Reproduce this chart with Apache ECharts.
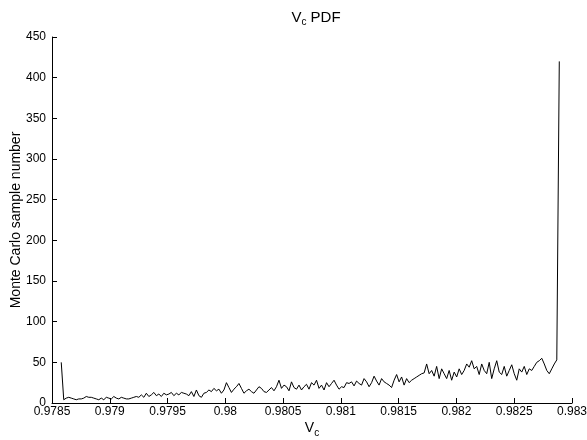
<!DOCTYPE html>
<html>
<head>
<meta charset="utf-8">
<script src="https://cdn.jsdelivr.net/npm/echarts@6/dist/echarts.min.js"></script>
<style>
	html, body { margin: 0; padding: 0; background: #fff; }
	#chart { width: 587px; height: 440px; }
</style>
</head>
<body>
<div id="chart"></div>
<script>
// histogram bins: first and last bin centre, one count per bin
const binFirst = 0.97858
const binLast = 0.98289
const counts = [
	50, 4, 6, 7, 6, 5, 4, 5, 5, 6, 8, 7, 7, 6, 5, 4, 6, 4, 7, 6,
	5, 8, 6, 5, 7, 6, 5, 5, 6, 7, 8, 7, 10, 7, 12, 8, 10, 13, 9, 11,
	8, 12, 10, 11, 13, 9, 12, 10, 13, 12, 11, 9, 14, 8, 16, 9, 7, 12, 13, 16,
	14, 18, 15, 17, 12, 16, 25, 19, 13, 17, 20, 24, 18, 12, 15, 17, 14, 12, 16, 20,
	18, 14, 13, 16, 19, 15, 20, 28, 18, 22, 20, 15, 26, 19, 17, 22, 16, 20, 23, 17,
	25, 22, 28, 18, 22, 16, 25, 20, 24, 28, 22, 17, 20, 19, 25, 24, 26, 21, 27, 24,
	22, 30, 26, 20, 25, 33, 27, 22, 30, 26, 24, 22, 19, 28, 35, 26, 32, 22, 30, 25,
	28, 30, 32, 34, 36, 37, 48, 36, 40, 33, 45, 30, 42, 36, 30, 40, 28, 38, 32, 42,
	35, 40, 48, 44, 52, 42, 45, 35, 48, 40, 36, 50, 30, 42, 52, 38, 35, 45, 33, 40,
	47, 36, 28, 42, 38, 45, 35, 42, 40, 45, 50, 52, 55, 48, 40, 36, 42, 48, 53, 420
]
const xTicks = [0.9785, 0.983, 0.0005]
const yTicks = [0, 450, 50]

const binStep = (binLast - binFirst) / (counts.length - 1)
const points = counts.map((c, i) => [binFirst + i * binStep, c])

const font = 'Liberation Sans, Arial, sans-serif'
const chart = echarts.init(document.getElementById('chart'), null, { renderer: 'canvas' })

chart.setOption({
	backgroundColor: '#fff',
	animation: false,
	title: {
		text: '{a|V}{b|c}{a| PDF}',
		left: 311,
		top: 3,
		textAlign: 'center',
		textStyle: {
			fontWeight: 'normal',
			rich: {
				a: { fontFamily: font, fontSize: 15, fontWeight: 'normal', color: '#000' },
				b: { fontFamily: font, fontSize: 10, fontWeight: 'normal', color: '#000', padding: [9, 0, 0, 0] },
			},
		},
	},
	grid: { left: 52, right: 15, top: 37, bottom: 37, outerBoundsMode: 'none' },
	xAxis: {
		type: 'value',
		min: xTicks[0],
		max: xTicks[1],
		interval: xTicks[2],
		name: '{a|V}{b|c}',
		nameLocation: 'middle',
		nameGap: 16,
		nameMoveOverlap: false,
		nameTextStyle: {
			rich: {
				a: { fontFamily: font, fontSize: 14, color: '#000' },
				b: { fontFamily: font, fontSize: 10, color: '#000', padding: [9, 0, 0, 0] },
			},
		},
		axisLine: { lineStyle: { color: '#000', width: 1 } },
		axisTick: { inside: true, length: 5, lineStyle: { color: '#000' } },
		axisLabel: {
			color: '#000',
			fontFamily: font,
			fontSize: 12,
			margin: 3,
			formatter: (v) => String(+v.toFixed(4)),
		},
		splitLine: { show: false },
	},
	yAxis: {
		type: 'value',
		min: yTicks[0],
		max: yTicks[1],
		interval: yTicks[2],
		name: 'Monte Carlo sample number',
		nameLocation: 'middle',
		nameGap: 29,
		nameMoveOverlap: false,
		nameTextStyle: { fontFamily: font, fontSize: 14, color: '#000' },
		axisLine: { show: true, lineStyle: { color: '#000', width: 1 } },
		axisTick: { show: true, inside: true, length: 5, lineStyle: { color: '#000' } },
		axisLabel: { color: '#000', fontFamily: font, fontSize: 12, margin: 6 },
		splitLine: { show: false },
	},
	series: [
		{
			type: 'line',
			data: points,
			showSymbol: false,
			lineStyle: { color: '#000', width: 1 },
		},
	],
})
</script>
</body>
</html>
